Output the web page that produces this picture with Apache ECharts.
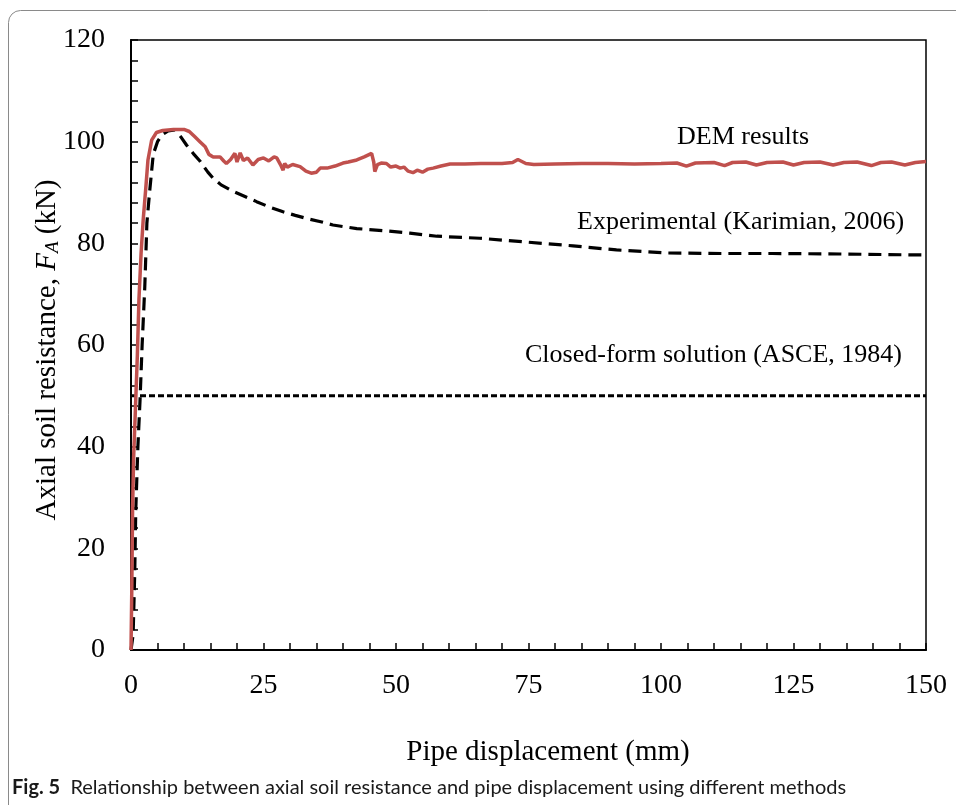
<!DOCTYPE html>
<html>
<head>
<meta charset="utf-8">
<script src="https://cdn.jsdelivr.net/npm/echarts@6/dist/echarts.min.js"></script>
<style>html,body{margin:0;padding:0;background:#fff;}#c{width:956px;height:805px;}</style>
</head>
<body>
<div id="c"></div>
<script>
// Pipe displacement (mm), Axial soil resistance (kN)
const demResults = [[0,0],[0.15,12],[0.3,28],[0.5,38],[0.75,45],[1.2,58],[1.5,69],[1.9,78],[2.3,84.6],[2.8,91],[3.2,96.4],[3.9,100.3],[4.8,101.8],[6,102.2],[8,102.4],[10,102.4],[11,102],[12,101],[13,100],[14,99],[14.7,97.5],[15.5,97],[16.8,97],[17.5,96.2],[18,95.7],[18.8,96.5],[19.6,97.7],[20,96],[20.6,97.8],[21.2,96.3],[22,96.8],[23,95.4],[24,96.5],[25,96.8],[26,96.2],[27,97],[27.5,96.8],[28.2,95.5],[28.7,94.4],[29,95.7],[29.5,95],[30.5,95.5],[31.9,95.1],[33,94.2],[34,93.8],[35,94],[35.7,94.8],[37,94.8],[38.5,95.2],[40,95.8],[41,96],[42.6,96.4],[44,97],[45.4,97.7],[45.8,96],[46,94.1],[46.5,95.5],[47.2,95.8],[48.2,95.7],[49,95],[50,95.2],[50.8,94.8],[51.5,95],[52.3,94.2],[53.2,93.9],[54,94.4],[55,94.0],[56,94.6],[57,94.8],[58.5,95.2],[60.2,95.6],[63,95.6],[66,95.7],[70,95.7],[72,95.9],[73,96.5],[74.5,95.7],[76,95.5],[80,95.6],[85,95.7],[90,95.7],[95,95.6],[100,95.7],[103,95.8],[104.8,95.2],[106.5,95.8],[110,95.9],[112,95.3],[113.5,95.9],[116,96],[118,95.4],[120,95.9],[123,96],[125,95.4],[127,95.9],[130,96],[132.5,95.4],[134.5,95.9],[137,96],[139.7,95.3],[141.5,95.9],[143.5,96],[146,95.4],[148,95.9],[150,96.1]];
const experimental = [[0,0],[0.4,3],[0.7,15],[0.9,27.5],[1.3,40],[1.7,49],[2.1,60],[2.6,71.4],[3.0,84],[3.5,90],[4.2,97.5],[5,100],[5.8,101.3],[7,102.1],[8.3,102.3],[9.5,100.8],[10.5,99.3],[11.8,97.6],[13,96.2],[14.5,94],[15.5,92.8],[17,91.5],[19.3,90.2],[21.5,89.2],[23.7,88.2],[26,87.2],[28.7,86.2],[31,85.5],[33.1,84.9],[36,84.2],[38.1,83.6],[42.6,82.9],[47.6,82.5],[52.6,82],[57.7,81.4],[65.8,81],[74,80.3],[83.4,79.5],[91.6,78.7],[101,78.1],[111.7,78],[121,78],[133.8,77.9],[150,77.7]];
const closedForm = [[0,50],[150,50]];
const seriesNames = ['DEM results','Experimental (Karimian, 2006)','Closed-form solution (ASCE, 1984)'];

const serif = '"Liberation Serif","Times New Roman",serif';
const chart = echarts.init(document.getElementById('c'), null, {renderer:'canvas'});
chart.setOption({
  animation:false,
  backgroundColor:'#fff',
  grid:{left:131, top:40, right:30, bottom:155, show:true, borderColor:'#000', borderWidth:1.5, containLabel:false},
  xAxis:{type:'value', min:0, max:150, interval:25,
    axisLine:{show:true, onZero:false, lineStyle:{color:'#000', width:2}},
    axisTick:{show:true, inside:true, length:7, lineStyle:{color:'#000', width:1.5}},
    minorTick:{show:true, splitNumber:5, length:7, lineStyle:{color:'#000', width:1.5}},
    splitLine:{show:false},
    axisLabel:{margin:22, color:'#000', fontFamily:serif, fontSize:28}},
  yAxis:{type:'value', min:0, max:120, interval:20,
    axisLine:{show:true, onZero:false, lineStyle:{color:'#000', width:2}},
    axisTick:{show:true, inside:true, length:7, lineStyle:{color:'#000', width:1.5}},
    minorTick:{show:true, splitNumber:5, length:7, lineStyle:{color:'#000', width:1.5}},
    splitLine:{show:false},
    axisLabel:{margin:26, color:'#000', fontFamily:serif, fontSize:28}},
  series:[
    {name:seriesNames[2], type:'line', data:closedForm, showSymbol:false, z:3,
      lineStyle:{color:'#000', width:3, type:[6,3]}},
    {name:seriesNames[1], type:'line', data:experimental, showSymbol:false, z:4,
      lineStyle:{color:'#000', width:3.2, type:[13,7]}},
    {name:seriesNames[0], type:'line', data:demResults, showSymbol:false, z:5,
      lineStyle:{color:'#C0504D', width:3.5}}
  ],
  graphic:[
    {type:'rect', shape:{x:8.5, y:10.5, width:1000, height:900, r:12}, style:{fill:'none', stroke:'#8a8a8a', lineWidth:1}, silent:true},
    {type:'text', x:677, y:137, style:{text:seriesNames[0], fontFamily:serif, fontSize:26, fill:'#000', textVerticalAlign:'middle'}},
    {type:'text', x:577, y:222, style:{text:seriesNames[1], fontFamily:serif, fontSize:26, fill:'#000', textVerticalAlign:'middle'}},
    {type:'text', x:525, y:355, style:{text:seriesNames[2], fontFamily:serif, fontSize:26, fill:'#000', textVerticalAlign:'middle'}},
    {type:'text', x:548, y:752, style:{text:'Pipe displacement (mm)', fontFamily:serif, fontSize:29, fill:'#000', textAlign:'center', textVerticalAlign:'middle'}},
    {type:'text', x:45, y:350, rotation:Math.PI/2, style:{
      text:'{a|Axial soil resistance, }{i|F}{s|A}{a| (kN)}',
      textAlign:'center', textVerticalAlign:'middle', fill:'#000',
      rich:{
        a:{fontFamily:serif, fontSize:29, fill:'#000', lineHeight:34, verticalAlign:'bottom'},
        i:{fontFamily:serif, fontSize:29, fontStyle:'italic', fill:'#000', lineHeight:34, verticalAlign:'bottom'},
        s:{fontFamily:serif, fontSize:19, fontStyle:'italic', fill:'#000', lineHeight:34, verticalAlign:'bottom', padding:[8,0,0,0]}
      }}},
    {type:'text', x:12, y:788, style:{
      text:'{b|Fig. 5}{r|  Relationship between axial soil resistance and pipe displacement using different methods}',
      textVerticalAlign:'middle',
      rich:{
        b:{fontFamily:'Lato, "Open Sans", sans-serif', fontWeight:'bold', fontSize:20, fill:'#1a1a1a'},
        r:{fontFamily:'Lato, "Open Sans", sans-serif', fontSize:20, fill:'#1a1a1a'}
      }}}
  ]
});
</script>
</body>
</html>
